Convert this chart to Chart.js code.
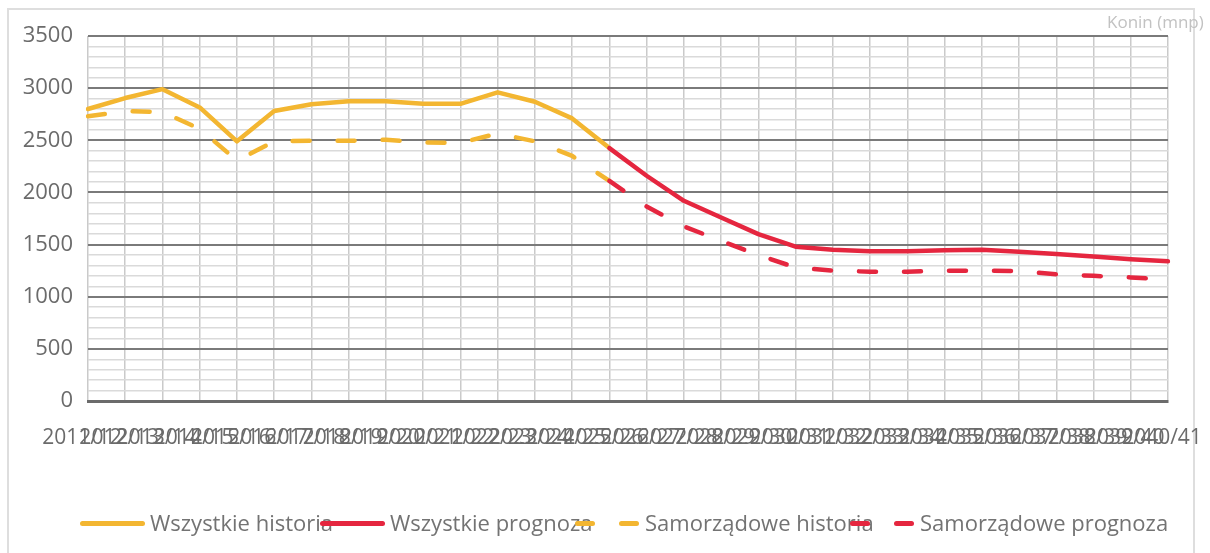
<!DOCTYPE html>
<html>
<head>
<meta charset="utf-8">
<script src="https://cdn.jsdelivr.net/npm/chart.js@4"></script>
<style>
  body { margin: 0; background: #fff; font-family: "Open Sans", sans-serif; }
  #wrap { position: relative; width: 1210px; height: 553px; overflow: hidden; }
  #frame { position: absolute; left: 7px; top: 8px; width: 1184px; height: 600px; border: 2px solid #dedede; }
  #cv { position: absolute; left: 0; top: 0; }
  #unit { position: absolute; left: 1107px; top: 10px; font-size: 17px; color: #c2c2c2; white-space: nowrap; }
  .lg { position: absolute; top: 507px; height: 30px; font-size: 22px; line-height: 30px; color: #737373; white-space: nowrap; }
  .smp { position: absolute; height: 5px; border-radius: 3px; top: 521px; }
</style>
</head>
<body>
<div id="wrap">
  <div id="frame"></div>
  <canvas id="cv" width="1210" height="553"></canvas>
  <div id="unit">Konin (mnp)</div>
  <div id="legend"></div>
</div>
<script>
const labels = ['2011/12','2012/13','2013/14','2014/15','2015/16','2016/17','2017/18','2018/19','2019/20','2020/21',
  '2021/22','2022/23','2023/24','2024/25','2025/26','2026/27','2027/28','2028/29','2029/30','2030/31',
  '2031/32','2032/33','2033/34','2034/35','2035/36','2036/37','2037/38','2038/39','2039/40','2040/41'];

const wszystkieHistoria = [2800, 2905, 2990, 2815, 2490, 2780, 2845, 2875, 2875, 2850, 2850, 2960, 2870, 2710, 2425,
  null, null, null, null, null, null, null, null, null, null, null, null, null, null, null];
const wszystkiePrognoza = [null, null, null, null, null, null, null, null, null, null, null, null, null, null, 2425,
  2160, 1920, 1760, 1600, 1480, 1450, 1435, 1435, 1445, 1450, 1430, 1410, 1385, 1360, 1340];
const samorzadoweHistoria = [2730, 2780, 2770, 2610, 2305, 2490, 2495, 2495, 2505, 2480, 2475, 2565, 2490, 2350, 2110,
  null, null, null, null, null, null, null, null, null, null, null, null, null, null, null];
const samorzadowePrognoza = [null, null, null, null, null, null, null, null, null, null, null, null, null, null, 2110,
  1865, 1675, 1535, 1400, 1280, 1250, 1240, 1240, 1250, 1250, 1245, 1215, 1200, 1185, 1165];

const ORANGE = '#f3b631';
const RED = '#e5263f';
const DASH = [17, 28];

function line(label, data, color, dashed, order) {
  return {
    label, data,
    borderColor: color,
    backgroundColor: color,
    borderWidth: 4.5,
    borderDash: dashed ? DASH : [],
    borderCapStyle: 'round',
    borderJoinStyle: 'round',
    pointRadius: 0,
    tension: 0,
    spanGaps: false,
    order
  };
}

new Chart(document.getElementById('cv'), {
  type: 'line',
  data: {
    labels: labels,
    datasets: [
      line('Wszystkie historia', wszystkieHistoria, ORANGE, false, 3),
      line('Wszystkie prognoza', wszystkiePrognoza, RED, false, 1),
      line('Samorządowe historia', samorzadoweHistoria, ORANGE, true, 4),
      line('Samorządowe prognoza', samorzadowePrognoza, RED, true, 2)
    ]
  },
  options: {
    responsive: false,
    animation: false,
    layout: { padding: { left: 0, right: 42, top: 36, bottom: 0 } },
    plugins: { legend: { display: false }, tooltip: { enabled: false } },
    scales: {
      x: {
        offset: false,
        afterFit: s => { s.height = 152; s.paddingLeft = 0; s.paddingRight = 0; },
        grid: { color: '#cacaca', lineWidth: 1.5, drawTicks: false },
        border: { display: true, color: '#6b6b6b', width: 3 },
        ticks: {
          autoSkip: false, maxRotation: 0, minRotation: 0,
          padding: 24, labelOffset: -6,
          color: '#6b6b6b', font: { family: 'Open Sans', size: 21 }
        }
      },
      y: {
        min: 0, max: 3500,
        afterFit: s => { s.width = 88; s.paddingTop = 0; s.paddingBottom = 0; },
        border: { display: false },
        grid: {
          drawTicks: false,
          color: c => (c.tick && c.tick.value % 500 === 0) ? '#7a7a7a' : '#dadada',
          lineWidth: c => (c.tick && c.tick.value % 500 === 0) ? 2 : 1.5
        },
        ticks: {
          stepSize: 100, padding: 15, autoSkip: false,
          callback: v => (v % 500 === 0 ? String(v) : ''),
          color: '#6b6b6b', font: { family: 'Open Sans', size: 22 }
        }
      }
    }
  }
});

// legend built from the dataset names
const legendItems = [
  { name: 'Wszystkie historia', color: ORANGE, dashed: false, x: 80 },
  { name: 'Wszystkie prognoza', color: RED, dashed: false, x: 320 },
  { name: 'Samorządowe historia', color: ORANGE, dashed: true, x: 575 },
  { name: 'Samorządowe prognoza', color: RED, dashed: true, x: 850 }
];
const lg = document.getElementById('legend');
legendItems.forEach(it => {
  const parts = it.dashed ? [[0, 20], [44, 20]] : [[0, 65]];
  parts.forEach(p => {
    const d = document.createElement('div');
    d.className = 'smp';
    d.style.left = (it.x + p[0]) + 'px';
    d.style.width = p[1] + 'px';
    d.style.background = it.color;
    lg.appendChild(d);
  });
  const t = document.createElement('div');
  t.className = 'lg';
  t.style.left = (it.x + 70) + 'px';
  t.textContent = it.name;
  lg.appendChild(t);
});
</script>
</body>
</html>
